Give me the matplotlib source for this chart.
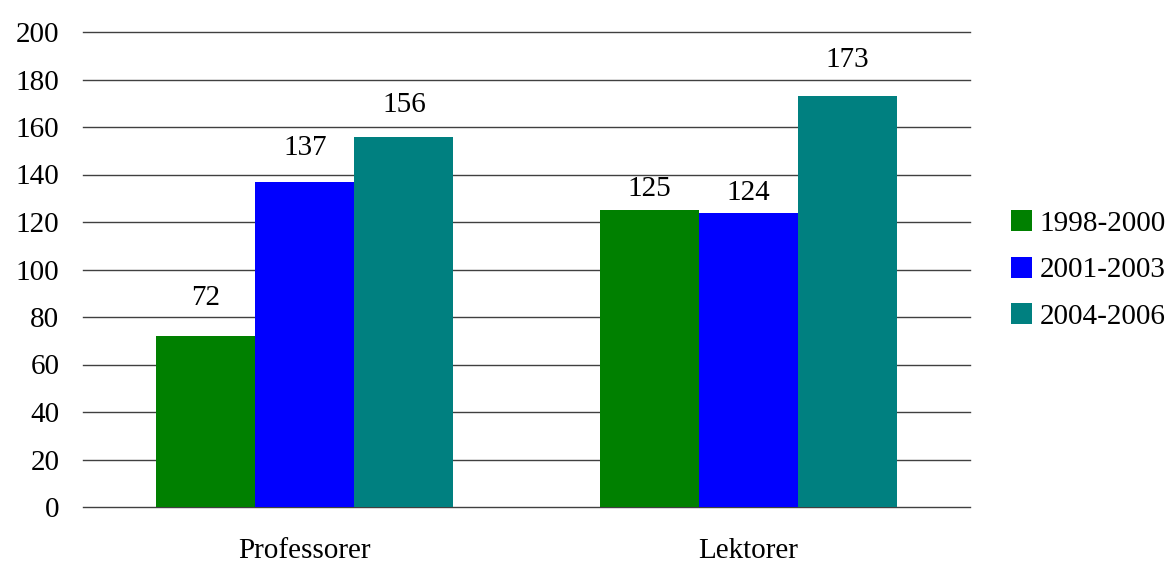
import matplotlib
matplotlib.use("Agg")
import matplotlib.pyplot as plt
import numpy as np
from matplotlib.patches import Patch

plt.rcParams['font.family'] = ['Liberation Serif', 'DejaVu Serif']

categories = ["Professorer", "Lektorer"]
series_names = ["1998-2000", "2001-2003", "2004-2006"]
values_1998 = [72, 125]
values_2001 = [137, 124]
values_2004 = [156, 173]
colors = ["#008000", "#0000FF", "#008080"]
yticks = [0, 20, 40, 60, 80, 100, 120, 140, 160, 180, 200]

# label offsets above bars (pixels), per series, per category
label_offsets = [[38, 21], [34, 19], [31, 36]]

FS = 21
fig = plt.figure(figsize=(11.73, 5.65), dpi=100)
ax = fig.add_axes([83/1173, 1 - 507/565, 887/1173, 475/565])

x = np.arange(len(categories))
w = 0.2235
all_vals = [values_1998, values_2001, values_2004]
for i, (vals, c, name) in enumerate(zip(all_vals, colors, series_names)):
    pos = x + (i - 1) * w
    ax.bar(pos, vals, width=w, color=c, label=name, zorder=3)
    for j, (p, v) in enumerate(zip(pos, vals)):
        ax.annotate(str(v), (p, v), xytext=(0, label_offsets[i][j] * 0.72),
                    textcoords='offset points', ha='center', va='center',
                    fontsize=FS, zorder=4)

ax.set_xlim(-0.5, 1.5)
ax.set_ylim(0, 200)
ax.set_yticks(yticks)
ax.set_yticklabels([str(t) for t in yticks], fontsize=FS)
ax.set_xticks(x)
ax.set_xticklabels(categories, fontsize=FS)
ax.tick_params(axis='both', length=0)
ax.tick_params(axis='y', pad=17)
ax.tick_params(axis='x', pad=22)
for s in ax.spines.values():
    s.set_visible(False)
for t in yticks:
    ax.axhline(t, color='#404040', linewidth=1.0, zorder=0, clip_on=False)

handles = [Patch(facecolor=c, edgecolor='none', label=n) for c, n in zip(colors, series_names)]
fig.legend(handles=handles, loc='center left', bbox_to_anchor=(1011/1173, 1 - 270/565),
           frameon=False, fontsize=FS, handlelength=0.72, handleheight=0.72,
           handletextpad=0.27, labelspacing=0.68, borderpad=0, borderaxespad=0)

fig.savefig("out.png", dpi=100)
